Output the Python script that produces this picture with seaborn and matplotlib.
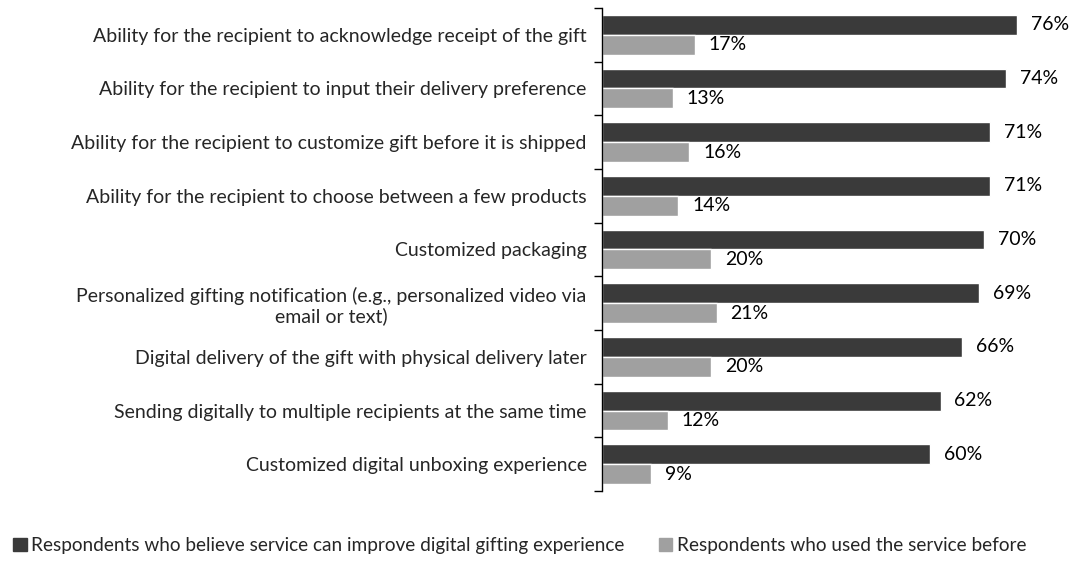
import pandas as pd
import numpy as np
import matplotlib
matplotlib.use("Agg")
import matplotlib.pyplot as plt
import seaborn as sns

# Data
features = [
    "Ability for the recipient to acknowledge receipt of the gift",
    "Ability for the recipient to input their delivery preference",
    "Ability for the recipient to customize gift before it is shipped",
    "Ability for the recipient to choose between a few products",
    "Customized packaging",
    "Personalized gifting notification (e.g., personalized video via\nemail or text)",
    "Digital delivery of the gift with physical delivery later",
    "Sending digitally to multiple recipients at the same time",
    "Customized digital unboxing experience",
]
believe_improve = [76, 74, 71, 71, 70, 69, 66, 62, 60]
used_before = [17, 13, 16, 14, 20, 21, 20, 12, 9]
series_names = [
    "Respondents who believe service can improve digital gifting experience",
    "Respondents who used the service before",
]
colors = ["#3a3a3a", "#a0a0a0"]

df = pd.DataFrame({
    "feature": features * 2,
    "value": believe_improve + used_before,
    "series": [series_names[0]] * len(features) + [series_names[1]] * len(features),
})

sns.set_style("white")
plt.rcParams["font.family"] = ["Lato", "DejaVu Sans"]

fig = plt.figure(figsize=(10.7, 5.62), dpi=100)
ax = fig.add_axes([0.5626, 0.1263, 0.4374, 0.8595])

sns.barplot(data=df, y="feature", x="value", hue="series", palette=colors,
            orient="h", width=0.74, edgecolor="white", linewidth=1,
            ax=ax, legend=False)

# value labels
for cont in ax.containers:
    ax.bar_label(cont, labels=[f"{v:.0f}%" for v in cont.datavalues],
                 padding=10, fontsize=14, color="black")

ax.set_xlim(0, 85.7)
ax.set_ylim(8.5, -0.5)
ax.set_xlabel("")
ax.set_ylabel("")
ax.set_xticks([])
for s in ["top", "right", "bottom"]:
    ax.spines[s].set_visible(False)
ax.spines["left"].set_color("black")
ax.spines["left"].set_linewidth(1)

ax.set_yticks(np.arange(len(features)))
ax.set_yticklabels(features, fontsize=14, multialignment="center")
ax.tick_params(axis="y", which="major", left=False, length=0, pad=11)
ax.set_yticks(np.arange(-0.5, len(features)), minor=True)
ax.tick_params(axis="y", which="minor", left=True, length=6, width=1,
               color="black", direction="out")

# legend at bottom
handles = [plt.Rectangle((0, 0), 1, 1, color=c) for c in colors]
fig.legend(handles, series_names, loc="lower left", bbox_to_anchor=(0.0, -0.01),
           ncol=2, frameon=False, fontsize=13.7, handlelength=0.7, handleheight=0.7,
           handletextpad=0.25, columnspacing=1.8, borderaxespad=0.3)

fig.savefig("out.png", dpi=100)
